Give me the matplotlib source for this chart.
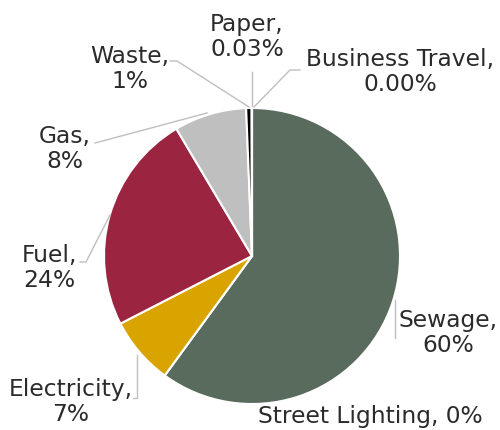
import numpy as np
from matplotlib import pyplot as plt

# slices in drawing order, clockwise from 12 o'clock
CATEGORIES = ['Sewage', 'Street Lighting', 'Electricity', 'Fuel', 'Gas', 'Waste', 'Paper', 'Business Travel']
SHARES = [60.0, 0.0, 7.4, 24.0, 7.9, 0.6, 0.03, 0.001]
LABELS = ['Sewage,\n60%', 'Street Lighting, 0%', 'Electricity,\n7%', 'Fuel,\n24%',
          'Gas,\n8%', 'Waste,\n1%', 'Paper,\n0.03%', 'Business Travel,\n0.00%']
COLORS = ['#586b5c', '#586b5c', '#d9a300', '#9b2540', '#bfbfbf', '#000000', '#000000', '#000000']

H = 430  # figure height in px, layout below is in px from the top-left

# label centre and leader line path (pixel coords, y from top)
LAYOUT = {
    'Sewage': ((448, 333), [(395, 300), (395, 338)]),
    'Street Lighting': ((370, 417), None),
    'Electricity': ((71, 402), [(133, 398), (137, 398), (137, 355)]),
    'Fuel': ((49, 268), [(80, 262), (86, 262), (110, 215)]),
    'Gas': ((65, 149), [(95, 143), (207, 113)]),
    'Waste': ((130, 69), [(170, 61), (177, 61), (249, 107)]),
    'Paper': ((247, 37), [(252, 72), (252, 106)]),
    'Business Travel': ((400, 72), [(300, 70), (290, 70), (254, 107)]),
}

fig = plt.figure(figsize=(5, 4.3), dpi=100)
ax = fig.add_axes([0, 0, 1, 1])

ax.pie(SHARES, colors=COLORS, startangle=90, counterclock=False,
       center=(252, H - 256), radius=148, frame=True,
       wedgeprops=dict(edgecolor='white', linewidth=1.5))

for name, label in zip(CATEGORIES, LABELS):
    (tx, ty), path = LAYOUT[name]
    if path:
        xs, ys = zip(*path)
        ax.plot(xs, [H - y for y in ys], color='#bfbfbf', lw=1, zorder=1)
    ax.text(tx, H - ty, label, ha='center', va='center', fontsize=16.8,
            color='#2b2b2b', linespacing=1.12, family='DejaVu Sans')

ax.set_xlim(0, 500)
ax.set_ylim(0, H)
ax.set_aspect('equal')
ax.axis('off')

fig.savefig('out.png', dpi=100)
